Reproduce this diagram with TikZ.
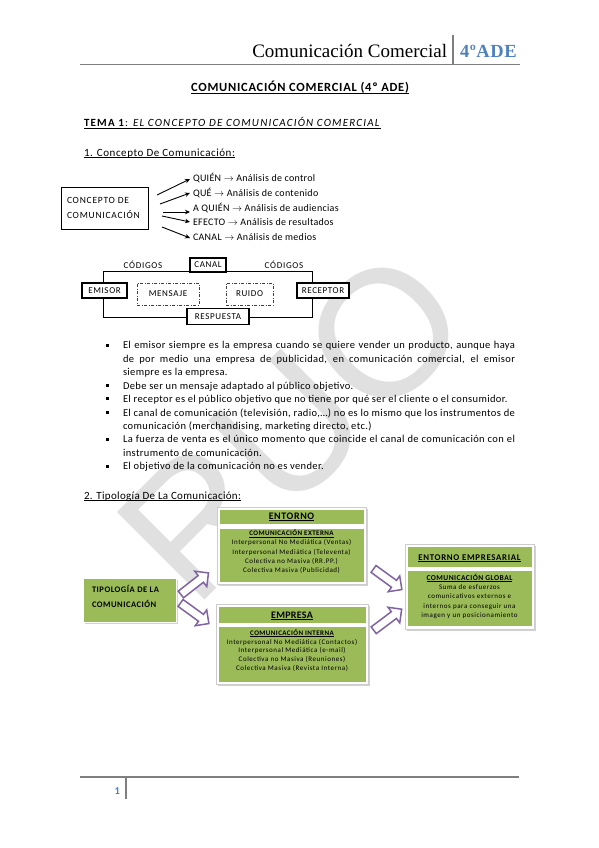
\documentclass[tikz,border=0pt]{standalone}
\usepackage{fontspec}
\setmainfont{Carlito}
\newfontfamily\hdrfont{Liberation Serif}
\newfontfamily\wmfont{Liberation Sans}
\usetikzlibrary{shapes.arrows,shadows,arrows.meta}
\newcommand\myul[1]{\setbox0\hbox{#1}\rlap{\rule[-0.16em]{\wd0}{0.065em}}\box0}
\newcommand\lsp[1]{\addfontfeatures{LetterSpace=#1}}
\definecolor{hdrblue}{HTML}{4F81BD}
\definecolor{ofgreen}{HTML}{9BBB59}
\definecolor{ofpurple}{HTML}{8064A2}
\definecolor{rulegray}{HTML}{7F7F7F}
\definecolor{wmgray}{HTML}{E0E0E0}
\tikzset{
  every node/.style={inner sep=0pt, outer sep=0pt},
  plainbox/.style={draw, line width=1.1pt, fill=white, font=\fontsize{9}{10}\selectfont\lsp{7}, inner sep=1.5pt},
  dashbox/.style={draw=black!75, line width=0.7pt, dash pattern=on 3pt off 1.5pt on 1pt off 1.5pt, font=\fontsize{9}{10}\selectfont\lsp{7}},
  conarrow/.style={line width=0.9pt, -{Stealth[length=5pt,width=4.5pt]}},
  listtext/.style={anchor=west, font=\fontsize{10}{12}\selectfont\lsp{3}},
  bodytext/.style={anchor=base west, font=\fontsize{10.5}{12}\selectfont\lsp{3.5}},
  bulletsq/.style={fill=black, minimum size=3pt},
  grpframe/.style={fill=white, draw=black!20, line width=0.4pt, drop shadow={shadow xshift=1.8pt, shadow yshift=-1.8pt, opacity=0.35}},
  greenbox/.style={fill=ofgreen, draw=white, line width=0.8pt},
  tinytext/.style={font=\fontsize{7}{7.5}\selectfont\lsp{8}},
  blockarrow/.style={single arrow, draw=ofpurple, fill=white, line width=1.5pt, inner sep=3.5pt, single arrow head extend=5.5pt, minimum height=35pt},
}
\begin{document}
\begin{tikzpicture}[x=1pt,y=-1pt]
\useasboundingbox (0,0) rectangle (599,848);
\fill[white] (0,0) rectangle (599,848);

% watermark
\node[rotate=45, text=wmgray, font=\wmfont\fontsize{180}{180}\selectfont] (wm) at (292,425) {RUO};

% header
\node[anchor=base east, font=\hdrfont\fontsize{19}{19}\selectfont] (hdr) at (447,58) {Comunicación Comercial};
\node[anchor=base west, font=\hdrfont\bfseries\fontsize{18.5}{18}\selectfont\lsp{3}, text=hdrblue] (hdrade) at (460,58) {4ºADE};
\draw[rulegray, line width=1.5pt] (80,64.5) -- (520,64.5);
\draw[rulegray, line width=1.2pt] (453,35) -- (453,64.5);

% titles
\node[anchor=base, font=\bfseries\fontsize{12.5}{14}\selectfont\lsp{6}] (title) at (300,92) {\myul{COMUNICACIÓN COMERCIAL (4º ADE)}};
\node[anchor=base west, font=\fontsize{11}{13}\selectfont\lsp{11}] (tema) at (84,127) {\myul{\textbf{\lsp{11}TEMA 1}: \textit{\lsp{11}EL CONCEPTO DE COMUNICACIÓN COMERCIAL}}};
\node[anchor=base west, font=\fontsize{11}{13}\selectfont\lsp{5}] (sec1) at (84,156) {\myul{1. Concepto De Comunicación:}};

% concept diagram
\node[draw, line width=1pt, minimum width=87pt, minimum height=42pt] (concept) at (105,208) {};
\node[anchor=west, align=left, font=\fontsize{9.5}{15}\selectfont\lsp{8}] (concepttxt) at (67,208) {CONCEPTO DE\\COMUNICACIÓN};
\node[listtext] (q1) at (193,178) {QUIÉN $\rightarrow$ Análisis de control};
\node[listtext] (q2) at (193,193) {QUÉ $\rightarrow$ Análisis de contenido};
\node[listtext] (q3) at (193,208) {A QUIÉN $\rightarrow$ Análisis de audiencias};
\node[listtext] (q4) at (193,222) {EFECTO $\rightarrow$ Análisis de resultados};
\node[listtext] (q5) at (193,237) {CANAL $\rightarrow$ Análisis de medios};
\coordinate (s1) at (157,195);
\coordinate (s2) at (160,204);
\coordinate (s3) at (163,212);
\coordinate (s4) at (162,216);
\coordinate (s5) at (162,227);
\draw[conarrow] (s1) -- ([xshift=-3pt,yshift=-1pt]q1.west);
\draw[conarrow] (s2) -- ([xshift=-3pt]q2.west);
\draw[conarrow] (s3) -- ([xshift=-3pt,yshift=-4pt]q3.west);
\draw[conarrow] (s4) -- ([xshift=-3pt]q4.west);
\draw[conarrow] (s5) -- ([xshift=-3pt,yshift=-1pt]q5.west);

% communication process
\draw[line width=0.8pt] (103,271) rectangle (312,317);
\node[font=\fontsize{9}{10}\selectfont\lsp{8}] (cod1) at (143,264.5) {CÓDIGOS};
\node[font=\fontsize{9}{10}\selectfont\lsp{8}] (cod2) at (284,264.5) {CÓDIGOS};
\node[plainbox, minimum width=36pt, minimum height=14pt] (canal) at (208,265) {CANAL};
\node[plainbox, minimum width=45pt, minimum height=15pt] (emisor) at (104.5,290.5) {EMISOR};
\node[plainbox, minimum width=52pt, minimum height=15pt] (receptor) at (323,290.5) {RECEPTOR};
\node[plainbox, minimum width=62pt, minimum height=16pt] (respuesta) at (218,316.5) {RESPUESTA};
\node[dashbox, minimum width=62pt, minimum height=22pt] (mensaje) at (168,294) {MENSAJE};
\node[dashbox, minimum width=47pt, minimum height=22pt] (ruido) at (249.5,294) {RUIDO};

% bullet list
\node[bulletsq] (b1) at (107,345) {};
\node[bulletsq] (b2) at (107,385.4) {};
\node[bulletsq] (b3) at (107,398.8) {};
\node[bulletsq] (b4) at (107,412.3) {};
\node[bulletsq] (b5) at (107,439.2) {};
\node[bulletsq] (b6) at (107,466) {};
\node[bodytext] (l1) at (123,348.7) {\makebox[392pt][s]{El emisor siempre es la empresa cuando se quiere vender un producto, aunque haya}};
\node[bodytext] (l2) at (123,362.1) {\makebox[392pt][s]{de por medio una empresa de publicidad, en comunicación comercial, el emisor}};
\node[bodytext] (l3) at (123,375.6) {siempre es la empresa.};
\node[bodytext] (l4) at (123,389) {Debe ser un mensaje adaptado al público objetivo.};
\node[bodytext] (l5) at (123,402.5) {El receptor es el público objetivo que no tiene por qué ser el cliente o el consumidor.};
\node[bodytext] (l6) at (123,416) {\makebox[392pt][s]{El canal de comunicación (televisión, radio,…) no es lo mismo que los instrumentos de}};
\node[bodytext] (l7) at (123,429.4) {comunicación (merchandising, marketing directo, etc.)};
\node[bodytext] (l8) at (123,442.8) {\makebox[392pt][s]{La fuerza de venta es el único momento que coincide el canal de comunicación con el}};
\node[bodytext] (l9) at (123,456.3) {instrumento de comunicación.};
\node[bodytext] (l10) at (123,469.7) {El objetivo de la comunicación no es vender.};

% section 2
\node[anchor=base west, font=\fontsize{11}{13}\selectfont\lsp{3}] (sec2) at (84,499) {\myul{2. Tipología De La Comunicación:}};

% tipologia box
\node[greenbox, drop shadow={shadow xshift=1.8pt, shadow yshift=-1.8pt, opacity=0.35}, minimum width=93pt, minimum height=44pt] (tipo) at (129.5,600) {};
\node[anchor=west, align=left, font=\bfseries\fontsize{8.5}{15}\selectfont\lsp{6}] (tipotxt) at (92,596.5) {TIPOLOGÍA DE LA\\COMUNICACIÓN};

% ENTORNO group
\node[grpframe, minimum width=149pt, minimum height=77pt] (entframe) at (291.5,546) {};
\node[greenbox, minimum width=145pt, minimum height=15pt] (enthead) at (291.5,516.5) {};
\node[greenbox, minimum width=145pt, minimum height=54pt] (entbody) at (291.5,555) {};
\node[font=\bfseries\fontsize{10}{10}\selectfont\lsp{6}] (enttitle) at (291.5,517) {\myul{ENTORNO}};
\begin{scope}
\clip (entbody.north west) rectangle (entbody.south east);
\node[tinytext, align=center, anchor=north] (enttxt) at (291.5,530) {\textbf{\lsp{6}\myul{COMUNICACIÓN EXTERNA}}\\[1.6pt]Interpersonal No Mediática (Ventas)\\[1.6pt]Interpersonal Mediática (Televenta)\\[1.6pt]Colectiva no Masiva (RR.PP.)\\[1.6pt]Colectiva Masiva (Publicidad)};
\end{scope}

% EMPRESA group
\node[grpframe, minimum width=152pt, minimum height=80pt] (empframe) at (292,644) {};
\node[greenbox, minimum width=148pt, minimum height=17pt] (emphead) at (292,614.5) {};
\node[greenbox, minimum width=148pt, minimum height=56pt] (empbody) at (292,654) {};
\node[font=\bfseries\fontsize{10}{10}\selectfont\lsp{3}] (emptitle) at (292,616) {\myul{EMPRESA}};
\node[tinytext, align=center, anchor=north] (emptxt) at (292,629.5) {\textbf{\lsp{6}\myul{COMUNICACIÓN INTERNA}}\\[1.3pt]Interpersonal No Mediática (Contactos)\\[1.3pt]Interpersonal Mediática (e-mail)\\[1.3pt]Colectiva no Masiva (Reuniones)\\[1.3pt]Colectiva Masiva (Revista Interna)};

% ENTORNO EMPRESARIAL group
\node[grpframe, minimum width=129pt, minimum height=85pt] (globframe) at (469.5,586.5) {};
\node[greenbox, minimum width=125pt, minimum height=21pt] (globhead) at (469.5,556.5) {};
\node[greenbox, minimum width=125pt, minimum height=56pt] (globbody) at (469.5,598) {};
\node[font=\bfseries\fontsize{8.8}{10}\selectfont\lsp{8}] (globtitle) at (469.5,558) {\myul{ENTORNO EMPRESARIAL}};
\begin{scope}
\clip (globbody.north west) rectangle (globbody.south east);
\node[tinytext, align=center, anchor=north] (globtxt) at (469.5,574) {\fontsize{7.5}{8}\selectfont\lsp{8}\textbf{\lsp{6}\myul{COMUNICACIÓN GLOBAL}}\\[1.8pt]Suma de esfuerzos\\[1.8pt]comunicativos externos e\\[1.8pt]internos para conseguir una\\[1.8pt]imagen y un posicionamiento};
\end{scope}

% block arrows
\node[blockarrow, rotate=38] (ar1) at (193,585) {};
\node[blockarrow, rotate=-36] (ar2) at (193,612) {};
\node[blockarrow, rotate=-36] (ar3) at (386,578) {};
\node[blockarrow, rotate=37] (ar4) at (386,621) {};

% footer
\draw[rulegray, line width=1.5pt] (80,777) -- (519,777);
\draw[rulegray, line width=1.2pt] (126,777) -- (126,799);
\node[anchor=base east, font=\bfseries\fontsize{10.5}{12}\selectfont, text=hdrblue] (pnum) at (120,794) {1};
\end{tikzpicture}
\end{document}
